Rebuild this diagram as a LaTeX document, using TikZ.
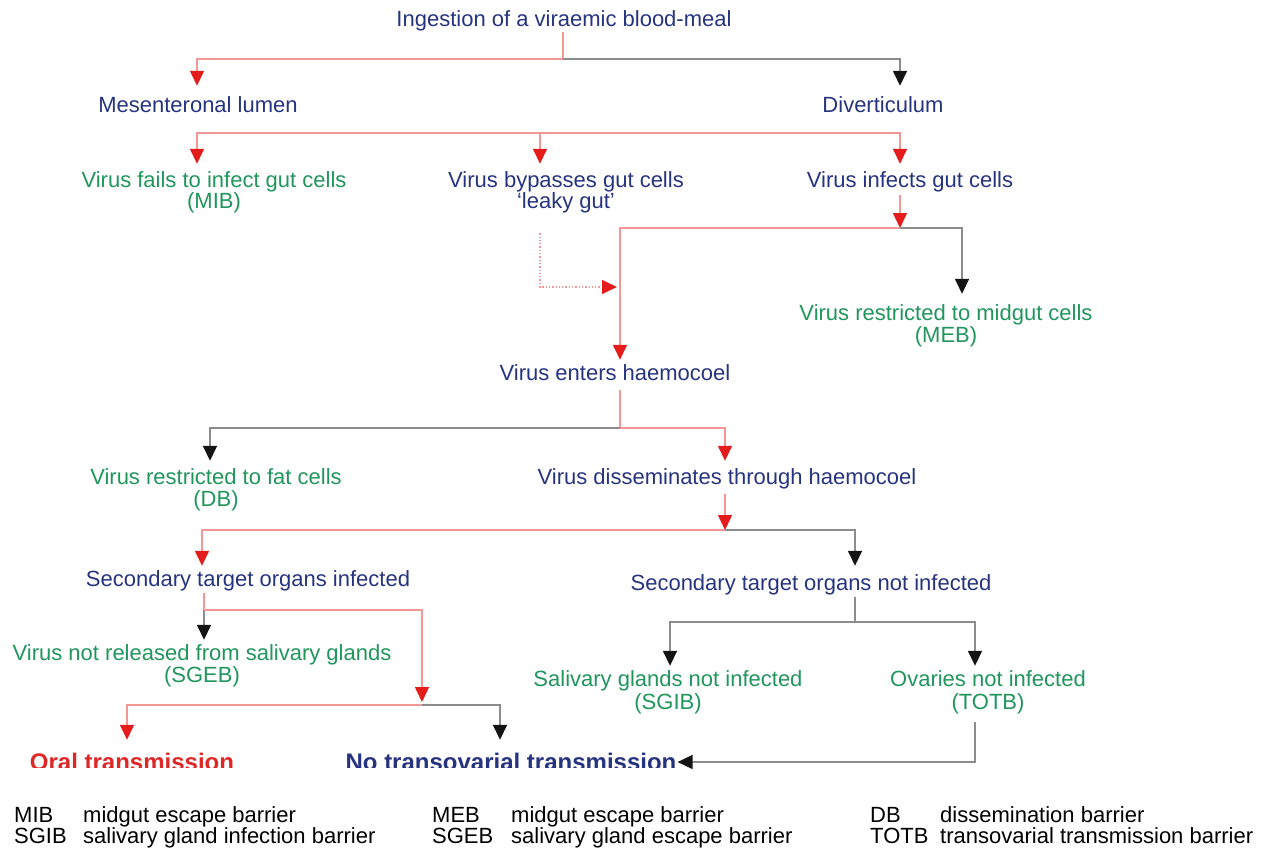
\documentclass[tikz,border=0pt]{standalone}
\usepackage{fontspec}
\setmainfont{Liberation Sans}
\usetikzlibrary{arrows.meta,calc}
\definecolor{tblue}{RGB}{38,52,128}
\definecolor{tgreen}{RGB}{32,150,92}
\definecolor{tred}{RGB}{222,40,40}
\definecolor{ared}{RGB}{228,28,28}
\definecolor{lred}{RGB}{242,150,150}
\definecolor{lgray}{RGB}{140,140,140}
\definecolor{ablack}{RGB}{20,20,20}
\tikzset{
  lbl/.style={inner sep=0pt, anchor=base, font=\fontsize{22}{22}\selectfont, text height=16pt, text depth=5pt},
  bl/.style={lbl, text=tblue},
  gr/.style={lbl, text=tgreen},
  big/.style={lbl, font=\fontsize{24}{24}\selectfont\bfseries, text height=17pt},
  leg/.style={inner sep=0pt, anchor=base west, font=\fontsize{22}{22}\selectfont, text=black},
  rl/.style={draw=lred, line width=1.5pt},
  gl/.style={draw=lgray, line width=1.6pt},
  rtip/.style={-{Triangle[length=15pt,width=14pt,color=ared]}},
  ktip/.style={-{Triangle[length=15pt,width=14pt,color=ablack]}},
  dotl/.style={draw=lred, line width=1.3pt, dotted}
}
\begin{document}
\begin{tikzpicture}[x=1pt,y=-1pt]
\useasboundingbox (0,0) rectangle (1261,848);
% texts
\node[bl] (ing) at (564,27) {Ingestion of a viraemic blood-meal};
\node[bl] (mes) at (198,113) {Mesenteronal lumen};
\node[bl] (div) at (883,113) {Diverticulum};
\node[gr] (fail) at (214,187) {Virus fails to infect gut cells};
\node[gr] (fail2) at (214,208) {(MIB)};
\node[bl] (byp) at (566,187) {Virus bypasses gut cells};
\node[bl, text height=15pt] (byp2) at (566,208) {‘leaky gut’};
\node[bl] (inf) at (910,187) {Virus infects gut cells};
\node[gr] (mid) at (946,320) {Virus restricted to midgut cells};
\node[gr] (mid2) at (946,342) {(MEB)};
\node[bl] (hae) at (615,380) {Virus enters haemocoel};
\node[gr] (fat) at (216,484) {Virus restricted to fat cells};
\node[gr] (fat2) at (216,506) {(DB)};
\node[bl] (dis) at (727,484) {Virus disseminates through haemocoel};
\node[bl] (sec) at (248,586) {Secondary target organs infected};
\node[bl] (nsec) at (811,590) {Secondary target organs not infected};
\node[gr] (rel) at (202,660) {Virus not released from salivary glands};
\node[gr] (rel2) at (202,682) {(SGEB)};
\node[gr] (sal) at (668,686) {Salivary glands not infected};
\node[gr] (sal2) at (668,709) {(SGIB)};
\node[gr] (ova) at (988,686) {Ovaries not infected};
\node[gr] (ova2) at (988,709) {(TOTB)};
\node[big, text=tred] (oral) at (132,770) {Oral transmission};
\node[big, text=tblue] (notr) at (511,770) {No transovarial transmission};
% junctions
\coordinate (j1) at (563,59);
\coordinate (j2) at (540,133);
\coordinate (j3) at (900,228);
\coordinate (j4) at (620,287);
\coordinate (j5) at (620,428);
\coordinate (j6) at (725,530);
\coordinate (j7) at (204,610);
\coordinate (j8) at (422,705);
\coordinate (j9) at (855,622);
% level 1
\draw[rl] (ing.south -| j1) -- (j1);
\draw[rl, rtip, shorten >=11pt] (j1) -| ([xshift=-1]mes.north);
\draw[gl, ktip, shorten >=11pt] (j1) -| ([xshift=17]div.north);
% level 2
\draw[rl, rtip, shorten >=7pt] (j2) -| ([xshift=-17]fail.north);
\draw[rl, rtip, shorten >=7pt] (j2) -- ([xshift=-26]byp.north);
\draw[rl, rtip, shorten >=7pt] (j2) -| ([xshift=-10]inf.north);
% gut cells
\draw[rl, rtip, shorten <=3pt] ([xshift=-10]inf.south) -- (j3);
\draw[rl, rtip, shorten >=4pt] (j3) -| ([xshift=5]hae.north);
\draw[gl, ktip, shorten >=10pt] (j3) -| ([xshift=16]mid.north);
\draw[dotl, rtip, shorten <=20pt, shorten >=3pt] ([xshift=-26]byp2.south) |- (j4);
% haemocoel
\draw[rl, shorten <=5pt] ([xshift=5]hae.south) -- (j5);
\draw[gl, ktip, shorten >=7pt] (j5) -| ([xshift=-6]fat.north);
\draw[rl, rtip, shorten >=7pt] (j5) -| ([xshift=-2]dis.north);
% dissemination
\draw[rl, rtip, shorten <=5pt] ([xshift=-2]dis.south) -- (j6);
\draw[rl, rtip, shorten >=4pt] (j6) -| ([xshift=-46]sec.north);
\draw[gl, ktip, shorten >=8pt] (j6) -| ([xshift=44]nsec.north);
% secondary infected
\draw[rl, shorten <=2pt] ([xshift=-44]sec.south) -- (j7);
\draw[gl, ktip, shorten >=4pt] (j7) -- ([xshift=2]rel.north);
\draw[rl, rtip, shorten >=3pt] (j7) -| (j8);
\draw[rl, rtip, shorten >=13pt] (j8) -| ([xshift=-5]oral.north);
\draw[gl, ktip, shorten >=13pt] (j8) -| ([xshift=-11]notr.north);
% secondary not infected
\draw[gl, shorten <=2pt] ([xshift=44]nsec.south) -- (j9);
\draw[gl, ktip, shorten >=4pt] (j9) -| ([xshift=2]sal.north);
\draw[gl, ktip, shorten >=4pt] (j9) -| ([xshift=-13]ova.north);
% clipped band
\fill[white] (0,768) rectangle (1261,792);
\draw[gl, ktip, shorten <=8pt, shorten >=1pt] ([xshift=-13]ova2.south) |- ([yshift=2]notr.east);
% legend
\node[leg] (l1) at (14,822) {MIB};
\node[leg] (l1d) at (83,822) {midgut escape barrier};
\node[leg] (l2) at (432,822) {MEB};
\node[leg] (l2d) at (511,822) {midgut escape barrier};
\node[leg] (l3) at (870,822) {DB};
\node[leg] (l3d) at (940,822) {dissemination barrier};
\node[leg] (l4) at (14,843) {SGIB};
\node[leg] (l4d) at (83,843) {salivary gland infection barrier};
\node[leg] (l5) at (432,843) {SGEB};
\node[leg] (l5d) at (511,843) {salivary gland escape barrier};
\node[leg] (l6) at (870,843) {TOTB};
\node[leg] (l6d) at (940,843) {transovarial transmission barrier};
\end{tikzpicture}
\end{document}
